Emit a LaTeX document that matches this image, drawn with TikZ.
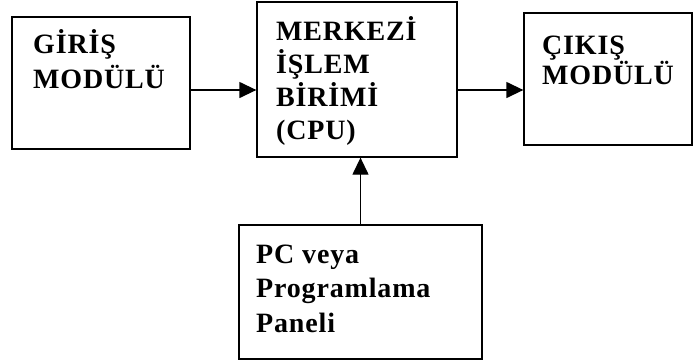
\documentclass[tikz,border=0pt]{standalone}
\usepackage{fontspec}
\setmainfont[LetterSpace=3]{Liberation Serif}
\usetikzlibrary{arrows.meta}

\tikzset{
  kutu/.style={draw, line width=1.3pt, inner sep=0pt},
  yazi/.style={inner sep=0pt, align=left, anchor=base west,
    font=\fontsize{28}{#1}\selectfont\bfseries},
  ok/.style={line width=1.3pt, -{Triangle[length=17pt,width=16pt]}}
}

\begin{document}
\begin{tikzpicture}[x=1pt,y=-1pt]
\useasboundingbox (0,0) rectangle (693,362);

% kutular
\node[kutu, minimum width=178pt, minimum height=132pt] (giris) at (101,83) {};
\node[kutu, minimum width=200pt, minimum height=155pt] (cpu) at (357,79.5) {};
\node[kutu, minimum width=168pt, minimum height=132pt] (cikis) at (608,79) {};
\node[kutu, minimum width=243pt, minimum height=134pt] (pc) at (360.5,292) {};

% yazilar (son satirin tabanina gore)
\node[yazi=35] (girisyazi) at (33,88) {GİRİŞ\\MODÜLÜ};
\node[yazi=33] (cpuyazi) at (276,139) {MERKEZİ\\İŞLEM\\BİRİMİ\\(CPU)};
\node[yazi=30] (cikisyazi) at (542,84) {ÇIKIŞ\\MODÜLÜ};
\node[yazi=34.5] (pcyazi) at (256,332) {PC veya\\Programlama\\Paneli};

% oklar
\coordinate (hat) at (0,90);
\draw[ok] (giris.east |- hat) -- (cpu.west |- hat);
\draw[ok] (cpu.east |- hat) -- (cikis.west |- hat);
\draw[ok] (pc.north) -- (pc.north |- cpu.south);
\end{tikzpicture}
\end{document}
